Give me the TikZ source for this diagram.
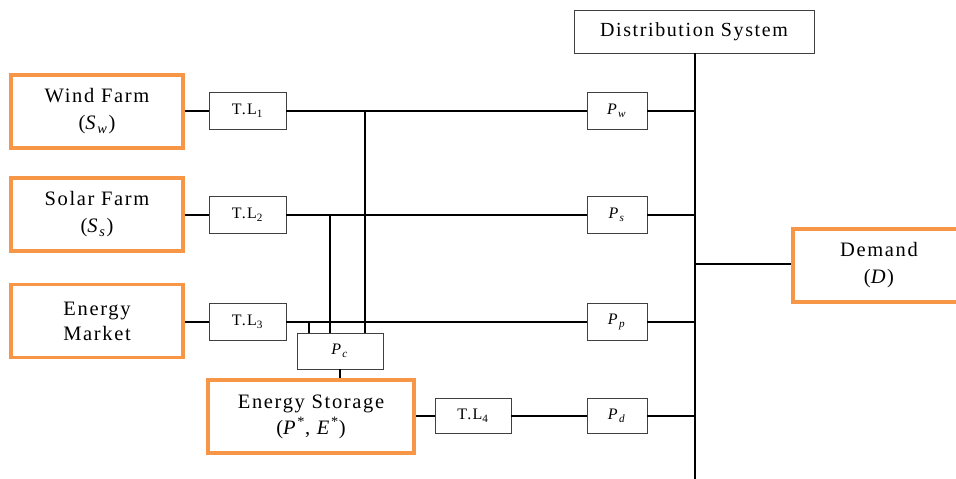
\documentclass[tikz,border=0pt]{standalone}
\usepackage{fontspec}
\setmainfont{Liberation Serif}[LetterSpace=8]
\definecolor{orng}{HTML}{F79646}
\definecolor{bord}{HTML}{404040}
\begin{document}
\begin{tikzpicture}[x=1pt,y=-1pt,
  srcbox/.style={draw=orng, line width=3.5pt, align=center, inner sep=0pt,
    font=\fontsize{20.5}{27}\selectfont, minimum width=172pt, minimum height=73pt},
  smallbox/.style={draw=bord, line width=0.9pt, inner sep=0pt,
    font=\fontsize{16}{18}\selectfont, minimum height=37pt},
  wire/.style={line width=1.5pt}]
\useasboundingbox (0,0) rectangle (956,479);
% sources
\node[srcbox] (wind) at (97,111.5) {Wind Farm\\(\textit{S}\textsubscript{\textit{w}})};
\node[srcbox] (solar) at (97,214.5) {Solar Farm\\(\textit{S}\textsubscript{\textit{s}})};
\node[srcbox, font=\fontsize{20.5}{25}\selectfont] (market) at (97,321) {Energy\\Market};
\node[srcbox, minimum width=206pt, font=\fontsize{20.5}{26}\selectfont] (stor) at (311,416.5) {Energy Storage\\(\textit{P}\textsuperscript{*}, \textit{E}\textsuperscript{*})};
\node[srcbox] (dem) at (879,265.5) {Demand\\(\textit{D})};
% transmission lines
\node[smallbox, minimum width=77pt] (tl1) at (247.5,111) {T.L\textsubscript{1}};
\node[smallbox, minimum width=77pt] (tl2) at (247.5,215) {T.L\textsubscript{2}};
\node[smallbox, minimum width=77pt] (tl3) at (247.5,322) {T.L\textsubscript{3}};
\node[smallbox, minimum width=76pt, minimum height=35pt] (tl4) at (473,416) {T.L\textsubscript{4}};
\node[smallbox, minimum width=86pt, minimum height=36pt] (pc) at (340,351) {\textit{P}\textsubscript{\textit{c}}};
% power boxes
\node[smallbox, minimum width=60pt] (pw) at (617,111) {\textit{P}\textsubscript{\textit{w}}};
\node[smallbox, minimum width=60pt] (ps) at (617,215) {\textit{P}\textsubscript{\textit{s}}};
\node[smallbox, minimum width=60pt] (pp) at (617,322) {\textit{P}\textsubscript{\textit{p}}};
\node[smallbox, minimum width=60pt, minimum height=35pt] (pd) at (617,416) {\textit{P}\textsubscript{\textit{d}}};
% distribution system
\node[draw=bord, line width=0.9pt, minimum width=240pt, minimum height=43pt, inner sep=0pt,
  font=\fontsize{20}{22}\selectfont] (dist) at (694,31.5) {\raisebox{3pt}{Distribution System}\hspace{14pt}};
% bus coordinates
\coordinate (busbot) at (695,479);
\coordinate (b1) at (695,111);
\coordinate (b2) at (695,215);
\coordinate (b3) at (695,322);
\coordinate (b4) at (695,416);
\coordinate (bd) at (695,264);
\coordinate (v1) at (365,111);
\coordinate (v2) at (330,215);
\coordinate (v3) at (309,322);
% wires
\draw[wire] (dist.south -| busbot) -- (busbot);
\draw[wire] (wind.east |- tl1) -- (tl1.west);
\draw[wire] (solar.east |- tl2) -- (tl2.west);
\draw[wire] (market.east |- tl3) -- (tl3.west);
\draw[wire] (tl1.east) -- (pw.west);
\draw[wire] (tl2.east) -- (ps.west);
\draw[wire] (tl3.east) -- (pp.west);
\draw[wire] (pw.east) -- (b1);
\draw[wire] (ps.east) -- (b2);
\draw[wire] (pp.east) -- (b3);
\draw[wire] (pd.east) -- (b4);
\draw[wire] (v1) -- (v1 |- pc.north);
\draw[wire] (v2) -- (v2 |- pc.north);
\draw[wire] (v3) -- (v3 |- pc.north);
\draw[wire] (pc.south) -- (pc.south |- stor.north);
\draw[wire] (stor.east |- tl4) -- (tl4.west);
\draw[wire] (tl4.east) -- (pd.west);
\draw[wire] (bd) -- (dem.west |- bd);
\end{tikzpicture}
\end{document}
